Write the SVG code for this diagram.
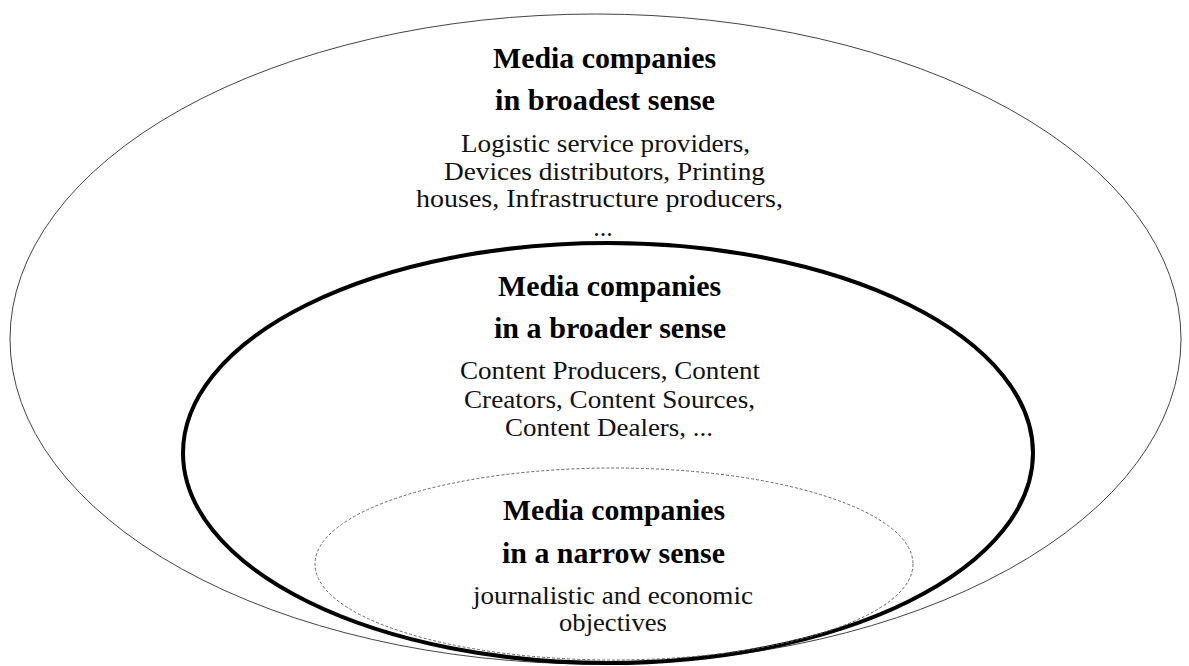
<svg xmlns="http://www.w3.org/2000/svg" width="1189" height="666" viewBox="0 0 1189 666">
<style>
.t{font-family:"Liberation Serif","Times New Roman",Times,serif;font-weight:bold;font-size:29px;fill:#000;text-anchor:middle}
.b{font-family:"Liberation Serif","Times New Roman",Times,serif;font-size:26px;fill:#111;text-anchor:middle}
</style>
<rect width="1189" height="666" fill="#fff"/>
<g id="outer">
<ellipse cx="595.5" cy="339" rx="585.5" ry="325" fill="none" stroke="#444" stroke-width="1"/>
<text class="t" x="604.5" y="68" textLength="223" lengthAdjust="spacingAndGlyphs">Media companies</text>
<text class="t" x="605" y="110" textLength="220" lengthAdjust="spacingAndGlyphs">in broadest sense</text>
<text class="b" x="605.5" y="152" textLength="289" lengthAdjust="spacingAndGlyphs">Logistic service providers,</text>
<text class="b" x="604.5" y="180" textLength="321" lengthAdjust="spacingAndGlyphs">Devices distributors, Printing</text>
<text class="b" x="599.5" y="207" textLength="367" lengthAdjust="spacingAndGlyphs">houses, Infrastructure producers,</text>
<text class="b" x="603" y="236">...</text>
</g>
<g id="middle">
<ellipse cx="608" cy="453" rx="425" ry="210" fill="none" stroke="#000" stroke-width="4"/>
<text class="t" x="609.5" y="296" textLength="223" lengthAdjust="spacingAndGlyphs">Media companies</text>
<text class="t" x="610" y="338" textLength="232" lengthAdjust="spacingAndGlyphs">in a broader sense</text>
<text class="b" x="610" y="379" textLength="300" lengthAdjust="spacingAndGlyphs">Content Producers, Content</text>
<text class="b" x="609.5" y="408" textLength="291" lengthAdjust="spacingAndGlyphs">Creators, Content Sources,</text>
<text class="b" x="609" y="436" textLength="208" lengthAdjust="spacingAndGlyphs">Content Dealers, ...</text>
</g>
<g id="inner">
<ellipse cx="614" cy="564" rx="299" ry="96" fill="none" stroke="#666" stroke-width="1" stroke-dasharray="3 2"/>
<text class="t" x="614" y="520" textLength="222" lengthAdjust="spacingAndGlyphs">Media companies</text>
<text class="t" x="613.5" y="563" textLength="223" lengthAdjust="spacingAndGlyphs">in a narrow sense</text>
<text class="b" x="613" y="604" textLength="280" lengthAdjust="spacingAndGlyphs">journalistic and economic</text>
<text class="b" x="613" y="631" textLength="108" lengthAdjust="spacingAndGlyphs">objectives</text>
</g>
<g id="connectors"></g>
</svg>
